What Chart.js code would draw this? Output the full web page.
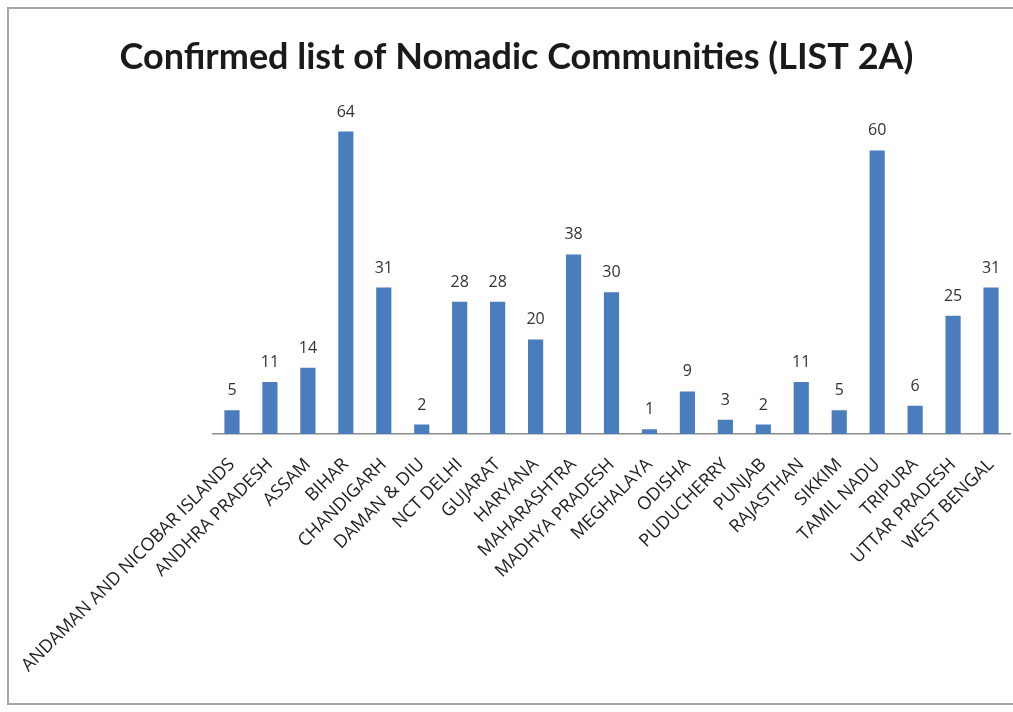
<!DOCTYPE html>
<html lang="en">

<head>
  <meta charset="UTF-8" />
  <title>Nomadic Communities | List 2A</title>
  <script src="https://cdn.jsdelivr.net/npm/chart.js"></script>
  <style>
    html, body { margin: 0; padding: 0; background: #fff; }
    #wrap { width: 1013px; height: 712px; }
  </style>
</head>

<body>
  <div id="wrap">
    <canvas id="graficoLista" width="1013" height="712"></canvas>
  </div>

  <script>
    // States / UTs and number of confirmed nomadic communities
    const estados = [
      'ANDAMAN AND NICOBAR ISLANDS', 'ANDHRA PRADESH', 'ASSAM', 'BIHAR', 'CHANDIGARH',
      'DAMAN & DIU', 'NCT DELHI', 'GUJARAT', 'HARYANA', 'MAHARASHTRA', 'MADHYA PRADESH',
      'MEGHALAYA', 'ODISHA', 'PUDUCHERRY', 'PUNJAB', 'RAJASTHAN', 'SIKKIM', 'TAMIL NADU',
      'TRIPURA', 'UTTAR PRADESH', 'WEST BENGAL'
    ];
    const comunidades = [5, 11, 14, 64, 31, 2, 28, 28, 20, 38, 30, 1, 9, 3, 2, 11, 5, 60, 6, 25, 31];
    const titulo = 'Confirmed list of Nomadic Communities (LIST 2A)';

    const corBarra = '#4a7dbd';

    // white page with the thin grey frame of the chart box
    const moldura = {
      id: 'moldura',
      beforeDraw(chart) {
        const ctx = chart.ctx;
        ctx.save();
        ctx.fillStyle = '#fff';
        ctx.fillRect(0, 0, chart.width, chart.height);
        ctx.strokeStyle = '#a8a8a8';
        ctx.lineWidth = 2;
        ctx.strokeRect(8, 8, chart.width + 20, chart.height - 16);
        ctx.restore();
      }
    };

    // value written above every bar
    const rotulos = {
      id: 'rotulos',
      afterDatasetsDraw(chart) {
        const ctx = chart.ctx;
        const meta = chart.getDatasetMeta(0);
        ctx.save();
        ctx.font = '16px "Open Sans", sans-serif';
        ctx.fillStyle = '#333';
        ctx.textAlign = 'center';
        ctx.textBaseline = 'alphabetic';
        meta.data.forEach((barra, i) => {
          ctx.fillText(String(comunidades[i]), barra.x, barra.y - 15);
        });
        ctx.restore();
      }
    };

    const config = {
      type: 'bar',
      data: {
        labels: estados,
        datasets: [{
          data: comunidades,
          backgroundColor: corBarra,
          borderWidth: 0,
          barPercentage: 0.8,
          categoryPercentage: 0.5
        }]
      },
      options: {
        responsive: false,
        animation: false,
        layout: {
          padding: { left: 20, right: 0, top: 8, bottom: 10 }
        },
        plugins: {
          legend: { display: false },
          tooltip: { enabled: false },
          title: {
            display: true,
            text: titulo,
            color: '#1a1a1a',
            font: { family: 'Lato, sans-serif', size: 36, weight: 'bold', lineHeight: 1.2 },
            padding: { top: 28, bottom: 24 }
          }
        },
        scales: {
          x: {
            grid: { display: false },
            border: { display: true, color: '#8c8c8c', width: 1.5 },
            ticks: {
              autoSkip: false,
              maxRotation: 45,
              minRotation: 45,
              padding: 12,
              color: '#1e1e1e',
              font: { family: '"Open Sans", sans-serif', size: 18 }
            },
            afterFit(escala) {
              // room on the left for the long rotated names, chart area 213..1010
              escala.height = 268;
              escala.paddingLeft = 213;
              escala.paddingRight = 3;
            }
          },
          y: {
            display: false,
            min: 0,
            max: 70
          }
        }
      },
      plugins: [moldura, rotulos]
    };

    new Chart(document.getElementById('graficoLista'), config);
  </script>
</body>

</html>
